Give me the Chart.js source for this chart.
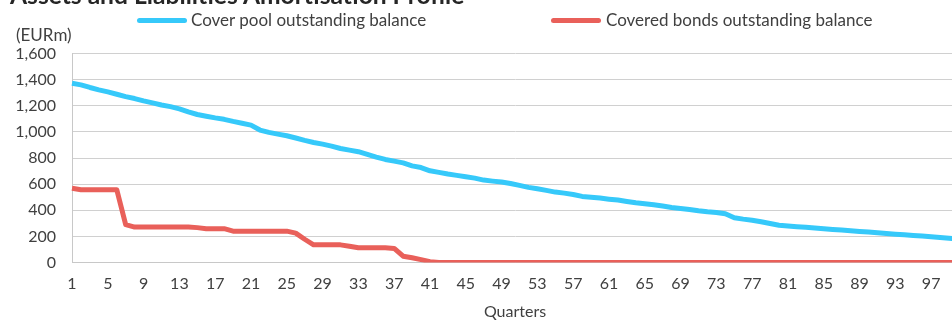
<!DOCTYPE html>
<html>
<head>
<meta charset="utf-8">
<script src="https://cdn.jsdelivr.net/npm/chart.js@4/dist/chart.umd.min.js"></script>
<style>
  html, body { margin: 0; padding: 0; background: #fff; overflow: hidden; width: 952px; height: 320px; }
  body { position: relative; font-family: Lato, "Open Sans", sans-serif; color: #404040; }
  #wrap { position: absolute; left: 0; top: 0; width: 970px; height: 320px; }
  #chart { display: block; width: 970px; height: 320px; }
  .title { position: absolute; left: 10px; top: -20.5px; font-size: 24.6px; line-height: 29px; font-weight: bold; color: #262626; white-space: nowrap; }
  .unit { position: absolute; left: 16px; top: 25px; font-size: 17px; line-height: 20px; white-space: nowrap; }
  .swatch { position: absolute; width: 50px; height: 5px; border-radius: 3px; }
  .leg { position: absolute; font-size: 17px; line-height: 20px; white-space: nowrap; }
</style>
</head>
<body>
<div id="wrap"><canvas id="chart" width="970" height="320"></canvas></div>
<div class="title">Assets and Liabilities Amortisation Profile</div>
<div class="unit">(EURm)</div>
<div class="swatch" style="left:137px; top:17.5px; background:#36c9fa;"></div>
<div class="leg" style="left:191px; top:10px;">Cover pool outstanding balance</div>
<div class="swatch" style="left:551px; top:17.5px; background:#e9605a;"></div>
<div class="leg" style="left:606px; top:10px;">Covered bonds outstanding balance</div>
<script>
// Quarters 1..100
const quarters = [
  1, 2, 3, 4, 5, 6, 7, 8, 9, 10, 11, 12, 13, 14, 15, 16, 17, 18, 19, 20,
  21, 22, 23, 24, 25, 26, 27, 28, 29, 30, 31, 32, 33, 34, 35, 36, 37, 38, 39, 40,
  41, 42, 43, 44, 45, 46, 47, 48, 49, 50, 51, 52, 53, 54, 55, 56, 57, 58, 59, 60,
  61, 62, 63, 64, 65, 66, 67, 68, 69, 70, 71, 72, 73, 74, 75, 76, 77, 78, 79, 80,
  81, 82, 83, 84, 85, 86, 87, 88, 89, 90, 91, 92, 93, 94, 95, 96, 97, 98, 99, 100
];

// Cover pool outstanding balance (EURm)
const coverPool = [
  1372, 1360, 1340, 1322, 1306, 1288, 1270, 1255, 1237, 1222,
  1206, 1193, 1176, 1153, 1133, 1120, 1107, 1096, 1080, 1066,
  1052, 1014, 996, 983, 970, 953, 935, 919, 906, 891,
  873, 860, 848, 827, 807, 789, 776, 763, 740, 727,
  702, 690, 677, 667, 656, 646, 631, 623, 616, 605,
  590, 575, 564, 552, 539, 531, 521, 506, 499, 493,
  485, 478, 467, 457, 450, 442, 432, 421, 414, 406,
  396, 388, 383, 373, 342, 332, 324, 312, 298, 285,
  279, 274, 269, 264, 258, 253, 248, 243, 238, 233,
  228, 222, 217, 212, 207, 202, 197, 192, 186, 180
];

// Covered bonds outstanding balance (EURm)
const coveredBonds = [
  568, 557, 557, 557, 557, 557, 290, 271, 271, 271,
  271, 271, 271, 271, 267, 259, 259, 259, 240, 240,
  240, 240, 240, 240, 240, 225, 178, 135, 135, 135,
  135, 125, 113, 113, 113, 113, 108, 48, 36, 22,
  6, 0, 0, 0, 0, 0, 0, 0, 0, 0,
  0, 0, 0, 0, 0, 0, 0, 0, 0, 0,
  0, 0, 0, 0, 0, 0, 0, 0, 0, 0,
  0, 0, 0, 0, 0, 0, 0, 0, 0, 0,
  0, 0, 0, 0, 0, 0, 0, 0, 0, 0,
  0, 0, 0, 0, 0, 0, 0, 0, 0, 0
];

const yTicks = [0, 200, 400, 600, 800, 1000, 1200, 1400, 1600];

const font = { family: 'Lato, "Open Sans", sans-serif', size: 16 };

new Chart(document.getElementById('chart'), {
  type: 'line',
  data: {
    labels: quarters,
    datasets: [
      {
        label: 'Cover pool outstanding balance',
        data: coverPool,
        borderColor: '#36c9fa',
        backgroundColor: '#36c9fa',
        borderWidth: 5,
        pointRadius: 0,
        borderJoinStyle: 'round',
        tension: 0
      },
      {
        label: 'Covered bonds outstanding balance',
        data: coveredBonds,
        borderColor: '#e9605a',
        backgroundColor: '#e9605a',
        borderWidth: 5,
        pointRadius: 0,
        borderJoinStyle: 'round',
        tension: 0
      }
    ]
  },
  options: {
    responsive: false,
    maintainAspectRatio: false,
    animation: false,
    devicePixelRatio: 1,
    layout: { padding: { left: 0, right: 7, top: 53.5, bottom: 0 } },
    plugins: {
      legend: { display: false },
      title: { display: false },
      tooltip: { enabled: false }
    },
    scales: {
      x: {
        grid: { display: false, drawTicks: false },
        border: { display: true, color: '#c8c8c8', width: 1 },
        ticks: {
          autoSkip: false,
          maxRotation: 0,
          minRotation: 0,
          padding: 12,
          color: '#404040',
          font: font,
          callback: function (val, idx) {
            return idx % 4 === 0 ? this.getLabelForValue(val) : '';
          }
        },
        title: {
          display: true,
          text: 'Quarters',
          color: '#404040',
          font: font,
          padding: { top: 0, bottom: -1 }
        },
        afterFit: (scale) => { scale.height = 57.5; }
      },
      y: {
        min: 0,
        max: 1600,
        afterBuildTicks: (scale) => { scale.ticks = yTicks.map(v => ({ value: v })); },
        grid: { color: '#d0d0d0', lineWidth: 1, drawTicks: false },
        border: { display: true, color: '#c8c8c8', width: 1 },
        ticks: {
          padding: 16,
          color: '#404040',
          font: font,
          callback: (v) => v.toLocaleString('en-US')
        },
        afterFit: (scale) => { scale.width = 72; }
      }
    }
  }
});
</script>
</body>
</html>
